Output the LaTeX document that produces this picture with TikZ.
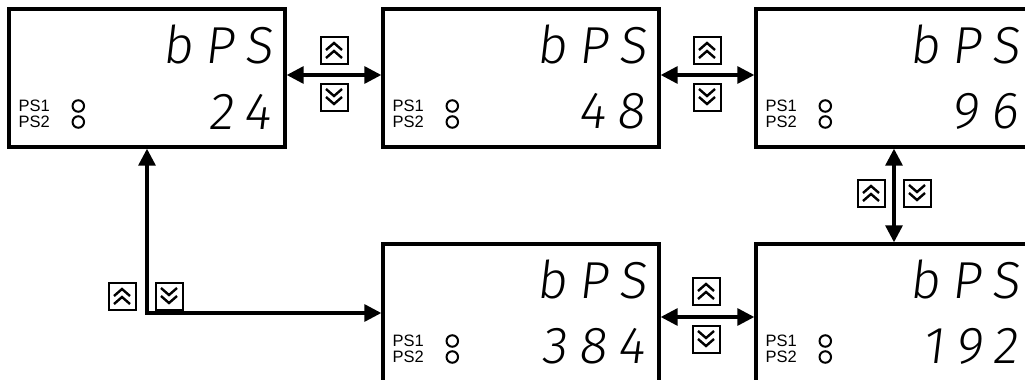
\documentclass[tikz,border=0pt]{standalone}
\usepackage{fontspec}
\setmainfont{Liberation Sans}
\newfontfamily\segfont[LetterSpace=22, FakeSlant=0.12]{Fira Sans Light}
\usetikzlibrary{positioning, arrows.meta}

% one display panel: name, position, value
\newcommand{\lcdpanel}[3]{%
  \node[lcd_box] (#1) at (#2) {};
  \node[seg_text, anchor=north east] (#1_mode) at ([xshift=-14pt, yshift=-17pt]#1.north east) {bPS};
  \node[seg_text, anchor=south east] (#1_val) at ([xshift=-16pt, yshift=19pt]#1.south east) {#3};
  \node[ps_text, anchor=west] (#1_ps1) at ([xshift=11pt, yshift=-28pt]#1.west) {PS1};
  \node[ps_text, anchor=west] (#1_ps2) at ([xshift=11pt, yshift=-44pt]#1.west) {PS2};
  \node[led] (#1_led1) at ([xshift=71pt, yshift=-28pt]#1.west) {};
  \node[led] (#1_led2) at ([xshift=71pt, yshift=-44pt]#1.west) {};
}

\begin{document}
\begin{tikzpicture}[
    x=1pt, y=-1pt,
    lcd_box/.style={rectangle, draw=black, line width=3.4pt, minimum width=276pt, minimum height=138pt, inner sep=0pt},
    seg_text/.style={font=\segfont\fontsize{52}{52}\selectfont, inner sep=0pt},
    ps_text/.style={font=\fontsize{16.5}{16.5}\selectfont, inner sep=0pt},
    led/.style={circle, draw=black, line width=2pt, minimum size=11.5pt, inner sep=0pt},
    key_box/.style={rectangle, draw=black, line width=2pt, minimum size=27pt, inner sep=0pt},
    key_up/.style={key_box, path picture={
        \draw[line width=2.4pt] ([xshift=-8pt, yshift=0pt]path picture bounding box.center) -- ++(8pt,7pt) -- ++(8pt,-7pt);
        \draw[line width=2.4pt] ([xshift=-8pt, yshift=-8pt]path picture bounding box.center) -- ++(8pt,7pt) -- ++(8pt,-7pt);}},
    key_down/.style={key_box, path picture={
        \draw[line width=2.4pt] ([xshift=-8pt, yshift=8pt]path picture bounding box.center) -- ++(8pt,-7pt) -- ++(8pt,7pt);
        \draw[line width=2.4pt] ([xshift=-8pt, yshift=0pt]path picture bounding box.center) -- ++(8pt,-7pt) -- ++(8pt,7pt);}},
    flow_arrow/.style={{Triangle[length=17pt, width=17pt]}-{Triangle[length=17pt, width=17pt]}, line width=3.2pt}
]
\useasboundingbox (0,0) rectangle (1025,380);
\clip (0,0) rectangle (1025,380);

% Top row
\lcdpanel{bps_24}{147,78}{24}
\lcdpanel{bps_48}{521,78}{48}
\lcdpanel{bps_96}{894,78}{96}

% Bottom row
\lcdpanel{bps_384}{521,313}{384}
\lcdpanel{bps_192}{894,313}{192}

% Keys
\node[key_up] (key_a_up) at (334,50) {};
\node[key_down] (key_a_down) at (334,97) {};
\node[key_up] (key_b_up) at (707,50) {};
\node[key_down] (key_b_down) at (707,97) {};
\node[key_up] (key_c_up) at (871,193) {};
\node[key_down] (key_c_down) at (917,193) {};
\node[key_up] (key_d_up) at (706,291) {};
\node[key_down] (key_d_down) at (706,339) {};
\node[key_up] (key_e_up) at (122,296) {};
\node[key_down] (key_e_down) at (169,296) {};

% Arrows
\draw[flow_arrow] ([yshift=3pt]bps_24.east) -- ([yshift=3pt]bps_48.west);
\draw[flow_arrow] ([yshift=3pt]bps_48.east) -- ([yshift=3pt]bps_96.west);
\draw[flow_arrow] (bps_96.south) -- (bps_192.north);
\draw[flow_arrow] ([yshift=-4pt]bps_384.east) -- ([yshift=-4pt]bps_192.west);
\draw[flow_arrow] (bps_24.south) |- (bps_384.west);

\end{tikzpicture}
\end{document}
